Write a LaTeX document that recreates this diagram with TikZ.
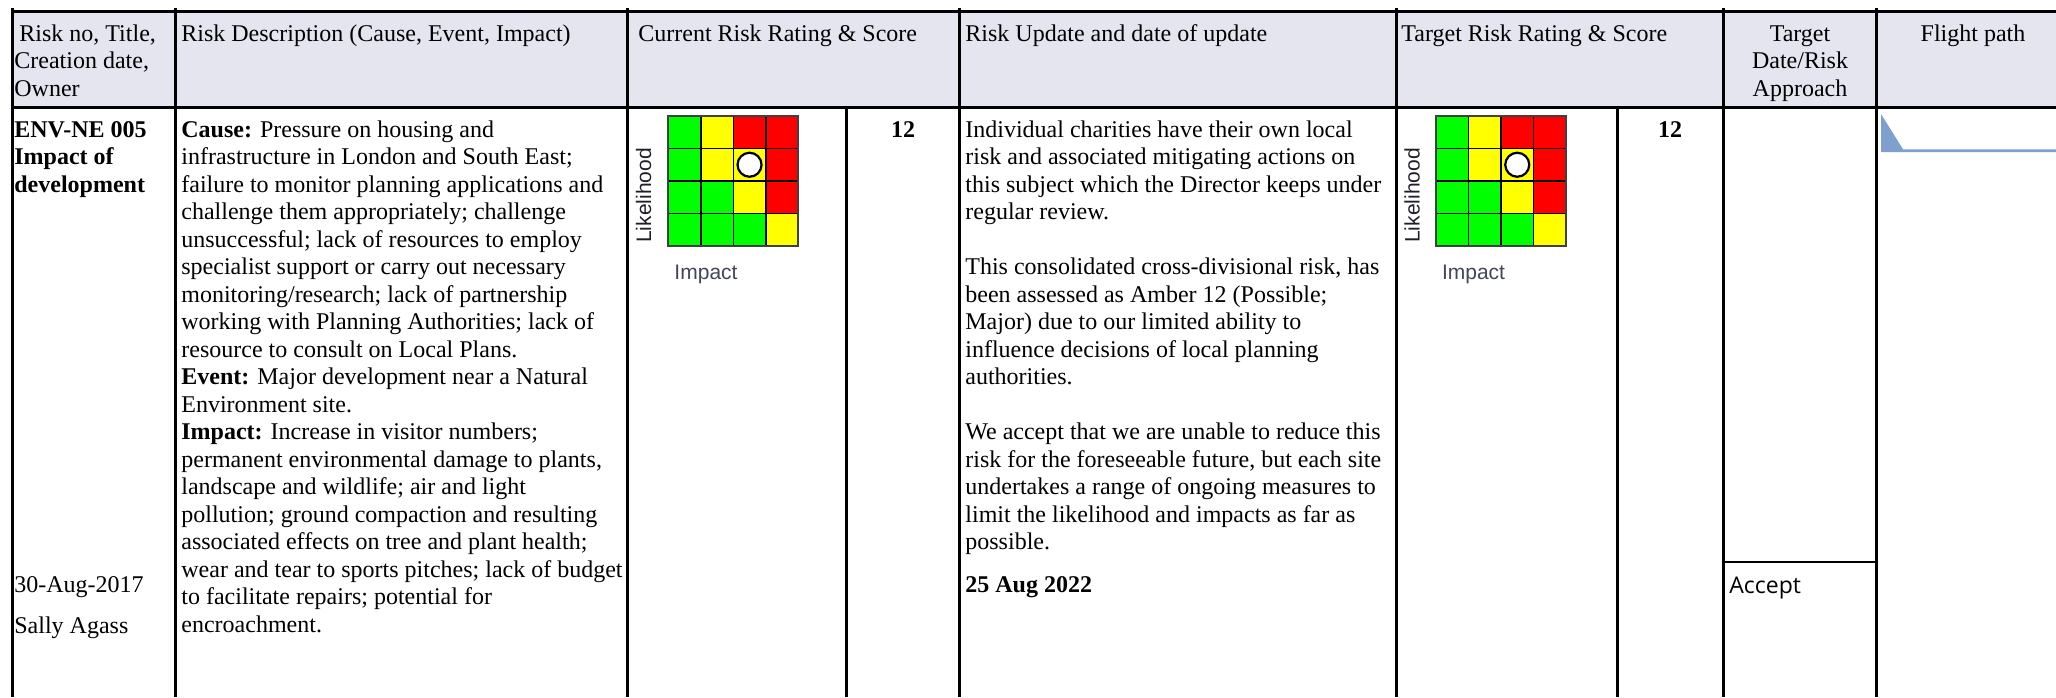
\documentclass[tikz,border=0pt]{standalone}
\usepackage{fontspec}
\setmainfont{Liberation Serif}
\newfontfamily\arialfont{Liberation Sans}
\newfontfamily\opensansfont{Open Sans}
\newcommand\cellfont{\fontsize{12}{13.75}\selectfont}
\definecolor{hdrfill}{RGB}{229,229,240}
\definecolor{gr}{RGB}{0,255,0}
\definecolor{ye}{RGB}{255,255,0}
\definecolor{rd}{RGB}{255,0,0}
\definecolor{fpblue}{RGB}{127,159,207}
\definecolor{likcol}{RGB}{34,30,40}
\definecolor{impcol}{RGB}{66,70,88}
\tikzset{
	rule/.style={line width=1.5pt},
	% multi-line texts are placed by the baseline of their last line
	celltext/.style={anchor=base west, inner sep=0pt, align=left, font=\cellfont},
	score/.style={anchor=base, inner sep=0pt, font=\cellfont\bfseries},
	axislabel/.style={inner sep=0pt, font=\arialfont\fontsize{10.5}{12}\selectfont},
}
% 4x4 rating grid, #1 = left edge
\newcommand\ratinggrid[1]{%
	\foreach \col [count=\n from 0] in {gr,ye,rd,rd,gr,ye,ye,rd,gr,gr,ye,rd,gr,gr,gr,ye}{
		\pgfmathtruncatemacro\row{\n/4}
		\pgfmathtruncatemacro\k{\n-4*\row}
		\filldraw[fill=\col, draw=black, line width=0.75pt] ({#1+\k*32.5},{116+\row*32.5}) rectangle ++(32.5,32.5);
	}
	\draw[line width=1pt, draw=black!75] (#1,116) rectangle ++(130,130);
	\draw[line width=1.1pt, fill=white] ({#1+81.25},164.75) circle[radius=6pt];
}
\begin{document}
\begin{tikzpicture}[x=0.5pt,y=-0.5pt]
	\useasboundingbox (0,0) rectangle (2056,697);
	% header band and rules
	\fill[hdrfill] (12,11.5) rectangle (2056,107);
	\draw[rule] (12,11.5) -- (2056,11.5);
	\draw[rule] (12,107) -- (2056,107);
	\foreach \x in {12,175,627,959,1396,1723,1876}
		\draw[rule] (\x,8) -- (\x,697);
	\foreach \x in {846,1617}
		\draw[rule] (\x,107) -- (\x,697);
	\draw[line width=1.2pt] (1723,562) -- (1876,562);
	
	% header texts
	\node[celltext] (hdrOwner) at (14,96) {\hspace{2.5pt}Risk no, Title,\\Creation date,\\Owner};
	\node[celltext] (hdrDesc) at (181,41) {Risk Description (Cause, Event, Impact)};
	\node[celltext] (hdrCur) at (638,41) {Current Risk Rating \& Score};
	\node[celltext] (hdrUpd) at (965,41) {Risk Update and date of update};
	\node[celltext] (hdrTgt) at (1401,41) {Target Risk Rating \& Score};
	\node[celltext, anchor=base, align=center] (hdrDate) at (1800,96) {Target\\Date/Risk\\Approach};
	\node[celltext, anchor=base] (hdrFlight) at (1973,41) {Flight path};
	
	% first column
	\node[celltext, font=\cellfont\bfseries] (riskId) at (14,192) {ENV-NE 005\\Impact of\\development};
	\node[celltext] (riskDate) at (14,592) {30-Aug-2017};
	\node[celltext] (riskOwner) at (14,633) {Sally Agass};
	
	% description
	\node[celltext] (riskDesc) at (181,632) {\textbf{Cause:} Pressure on housing and\\
		infrastructure in London and South East;\\
		failure to monitor planning applications and\\
		challenge them appropriately; challenge\\
		unsuccessful; lack of resources to employ\\
		specialist support or carry out necessary\\
		monitoring/research; lack of partnership\\
		working with Planning Authorities; lack of\\
		resource to consult on Local Plans.\\
		\textbf{Event:} Major development near a Natural\\
		Environment site.\\
		\textbf{Impact:} Increase in visitor numbers;\\
		permanent environmental damage to plants,\\
		landscape and wildlife; air and light\\
		pollution; ground compaction and resulting\\
		associated effects on tree and plant health;\\
		wear and tear to sports pitches; lack of budget\\
		to facilitate repairs; potential for\\
		encroachment.};
	
	% current rating
	\ratinggrid{668.3}
	\node[axislabel, rotate=90, text=likcol] (curLik) at (643.5,195.5) {Likelihood};
	\node[axislabel, text=impcol] (curImp) at (706,274) {Impact};
	\node[score] (curScore) at (903,137) {12};
	
	% update
	\node[celltext] (updText) at (965,549.5) {Individual charities have their own local\\
		risk and associated mitigating actions on\\
		this subject which the Director keeps under\\
		regular review.\\[13.75pt]
		This consolidated cross-divisional risk, has\\
		been assessed as Amber 12 (Possible;\\
		Major) due to our limited ability to\\
		influence decisions of local planning\\
		authorities.\\[13.75pt]
		We accept that we are unable to reduce this\\
		risk for the foreseeable future, but each site\\
		undertakes a range of ongoing measures to\\
		limit the likelihood and impacts as far as\\
		possible.};
	\node[celltext, font=\cellfont\bfseries] (updDate) at (965,592) {25 Aug 2022};
	
	% target rating
	\ratinggrid{1436}
	\node[axislabel, rotate=90, text=likcol] (tgtLik) at (1412,195.5) {Likelihood};
	\node[axislabel, text=impcol] (tgtImp) at (1473.5,274) {Impact};
	\node[score] (tgtScore) at (1670,137) {12};
	\node[celltext, font=\opensansfont\fontsize{11.5}{13}\selectfont] (approach) at (1729,593) {Accept};
	
	% flight path
	\fill[fpblue] (1881,114) -- (1903,149.3) -- (2056,149.3) -- (2056,152) -- (1881,152) -- cycle;
\end{tikzpicture}
\end{document}
